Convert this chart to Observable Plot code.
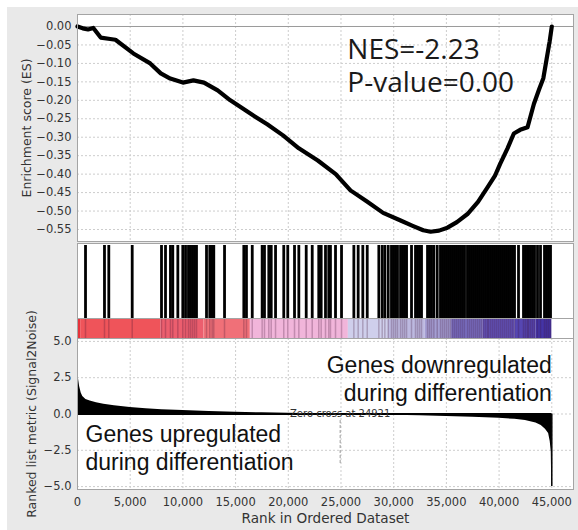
<!DOCTYPE html>
<html><head><meta charset="utf-8">
<script src="https://cdn.jsdelivr.net/npm/d3@7"></script>
<script src="https://cdn.jsdelivr.net/npm/@observablehq/plot@0.6"></script>
<style>
html,body{margin:0;padding:0;background:#fff;}
#chart{width:578px;height:530px;background:#e9e9e9;box-shadow:inset 7px 7px 0 0 #fff;overflow:hidden;}
#chart svg{display:block;overflow:visible;}
</style></head><body><div id="chart"></div>
<script>
// ---- data ----
const esRank  = [0, 500, 1000, 1500, 2200, 3100, 3600, 5300, 6900, 7900, 8800, 10000, 11000, 12000, 13300, 14500, 16400, 18000, 19500, 21000, 22800, 24500, 25900, 27500, 29000, 30600, 31800, 32800, 33500, 34300, 35100, 36000, 37000, 38000, 38900, 39600, 40100, 40800, 41400, 42000, 42700, 43300, 43800, 44200, 44500, 44800, 45000];
const esValue = [0, -0.005, -0.008, -0.004, -0.03, -0.034, -0.036, -0.073, -0.1, -0.127, -0.141, -0.152, -0.146, -0.152, -0.173, -0.2, -0.236, -0.265, -0.295, -0.33, -0.363, -0.4, -0.444, -0.475, -0.505, -0.525, -0.54, -0.552, -0.556, -0.553, -0.545, -0.53, -0.508, -0.475, -0.436, -0.405, -0.372, -0.33, -0.29, -0.28, -0.273, -0.21, -0.17, -0.14, -0.09, -0.04, 0.0];

const hitRanks = [760, 2560, 2970, 5190, 7970, 8350, 8820, 9040, 9520, 9990, 10250, 10530, 10720, 10910, 11100, 11290,
  12240, 12550, 12780, 12930, 13950, 15780, 16030, 16580, 17520, 17740, 18150, 18380, 18790, 19570, 19950, 20590, 21000,
  21700, 22270, 22890, 23120, 23530, 23840, 24000, 24480, 25050, 26220, 26630, 27070, 27490, 28590, 28910, 29160, 29480,
  29790, 29980, 30170, 30360, 30650, 30840, 31030, 31220, 31690, 32070, 32260, 32450, 32640, 33210, 33400, 33590, 33810,
  34130, 34440, 34630, 34820, 35010, 35200, 35390, 35580, 35770, 35960, 36150, 36340, 36530, 36720, 37000, 37190, 37380,
  37570, 37760, 37950, 38140, 38330, 38520, 38710, 38900, 38996, 39185, 39375, 39565, 39755, 39944, 40134, 40324, 40514,
  40704, 40893, 41083, 41273, 41463, 41842, 42316, 42506, 42696, 42791, 42981, 43170, 43360, 43645, 43929, 44309, 44499,
  44689, 44879];

const barStart = [0, 300, 7900, 12000, 16400, 25700, 29500, 33000, 35500, 38500, 41500, 43500];
const barEnd   = [300, 7900, 12000, 16400, 25700, 29500, 33000, 35500, 38500, 41500, 43500, 45000];
const barColor = ["#e6333b", "#ef545a", "#ec5e6e", "#f07078", "#f1b5da", "#cfcfec", "#bdb9e0", "#a49ed3", "#7a70c4", "#6454bb", "#5646b2", "#4434a6"];

const metricRank  = [0, 30, 100, 200, 350, 500, 800, 1200, 1800, 2500, 3500, 5000, 6500, 8000, 10000, 12500, 15000, 17500, 20000, 22500, 24921, 27500, 30000, 32500, 35000, 37500, 40000, 41500, 42500, 43500, 44000, 44400, 44700, 44850, 44950, 45000];
const metricValue = [4.2, 3.2, 2.4, 1.9, 1.45, 1.2, 1.0, 0.9, 0.78, 0.68, 0.57, 0.45, 0.37, 0.3, 0.24, 0.18, 0.12, 0.08, 0.05, 0.02, 0, -0.04, -0.08, -0.12, -0.17, -0.22, -0.3, -0.37, -0.45, -0.62, -0.8, -1.05, -1.35, -1.9, -2.6, -5.0];

const esTicks = [0, -0.05, -0.1, -0.15, -0.2, -0.25, -0.3, -0.35, -0.4, -0.45, -0.5, -0.55];
const metricTicks = [5, 2.5, 0, -2.5, -5];
const rankTicks = [0, 5000, 10000, 15000, 20000, 25000, 30000, 35000, 40000, 45000];
const zeroCross = 24921;
const statsLines = ["NES=-2.23", "P-value=0.00"];
const downLines = ["Genes downregulated", "during differentiation"];
const upLines = ["Genes upregulated", "during differentiation"];

// ---- layout ----
const W = 578, ML = 77, MR = 5;
const xDomain = [0, 47060];
const grid = {stroke: "#cdcdcd", strokeDasharray: "2,2", strokeWidth: 1};
const frameStroke = "#a4a4a4";
const baseStyle = {background: "transparent", fontFamily: "DejaVu Sans", fontSize: "11.5px", color: "#333", overflow: "visible"};

const es = esRank.map((r, i) => ({rank: r, es: esValue[i]}));
const bars = barStart.map((s, i) => ({x1: s, x2: barEnd[i], c: barColor[i]}));
const metric = metricRank.map((r, i) => ({rank: r, m: metricValue[i]}));
const last = metric[metric.length - 1];

const p1 = Plot.plot({
  width: W, height: 242, marginLeft: ML, marginRight: MR, marginTop: 14, marginBottom: 1,
  style: baseStyle,
  x: {domain: xDomain, axis: null},
  y: {domain: [-0.5825, 0.0325], axis: null},
  marks: [
    Plot.frame({fill: "white"}),
    Plot.ruleX(rankTicks, grid),
    Plot.ruleY(esTicks, grid),
    Plot.ruleY([0], {stroke: "#9a9a9a"}),
    Plot.axisY(esTicks, {tickSize: 0, tickPadding: 6, tickFormat: d3.format(".2f"), label: null, fill: "#333"}),
    Plot.line(es, {x: "rank", y: "es", stroke: "black", strokeWidth: 4.2, strokeLinejoin: "round"}),
    Plot.text([statsLines.join("\n")], {x: 25600, y: -0.0247, text: d => d, textAnchor: "start", lineAnchor: "top",
      fontSize: 28, fontFamily: "Open Sans", lineHeight: 1.18, fill: "#1a1a1a"}),
    Plot.text(["Enrichment score (ES)"], {frameAnchor: "left", dx: -51, rotate: -90, textAnchor: "middle", text: d => d, fontSize: 12.5, fill: "#333"}),
    Plot.frame({stroke: frameStroke})
  ]
});

const p2 = Plot.plot({
  width: W, height: 96, marginLeft: ML, marginRight: MR, marginTop: 1, marginBottom: 0,
  style: baseStyle,
  x: {domain: xDomain, axis: null},
  y: {domain: [0, 1], axis: null},
  color: {type: "identity"},
  marks: [
    Plot.frame({fill: "white"}),
    Plot.rect(bars, {x1: "x1", x2: "x2", y1: 0, y2: 0.2105, fill: "c"}),
    Plot.ruleX(hitRanks, {y1: 0, y2: 0.2105, stroke: "#3a1030", strokeOpacity: 0.25, strokeWidth: 1.5}),
    Plot.ruleX(hitRanks, {y1: 0.2105, y2: 0.979, stroke: "black", strokeWidth: 2.8}),
    Plot.ruleY([0.2105], {stroke: frameStroke}),
    Plot.frame({stroke: frameStroke})
  ]
});

const p3 = Plot.plot({
  width: W, height: 192, marginLeft: ML, marginRight: MR, marginTop: 0, marginBottom: 41,
  style: baseStyle,
  x: {domain: xDomain, axis: null},
  y: {domain: [-5.2, 5.2], axis: null},
  marks: [
    Plot.frame({fill: "white"}),
    Plot.ruleX(rankTicks, grid),
    Plot.ruleY(metricTicks, grid),
    Plot.areaY(metric, {x: "rank", y: "m", fill: "black"}),
    Plot.ruleX([last], {x: "rank", y1: 0, y2: "m", stroke: "black", strokeWidth: 1.5}),
    Plot.ruleY([0], {x1: 0, x2: last.rank, stroke: "black", strokeWidth: 2}),
    Plot.ruleX([zeroCross], {y1: -0.45, y2: -3.55, stroke: "#9a9a9a", strokeDasharray: "3,2"}),
    Plot.text(["Zero cross at " + zeroCross], {x: zeroCross, y: 0, text: d => d, fontSize: 10, fill: "#333"}),
    Plot.text([downLines.join("\n")], {x: 45000, y: 4.16, text: d => d, textAnchor: "end", lineAnchor: "top",
      fontSize: 23, fontFamily: "Liberation Sans", lineHeight: 1.2, fill: "#111"}),
    Plot.text([upLines.join("\n")], {x: 760, y: -0.58, text: d => d, textAnchor: "start", lineAnchor: "top",
      fontSize: 23, fontFamily: "Liberation Sans", lineHeight: 1.2, fill: "#111"}),
    Plot.axisY(metricTicks, {tickSize: 0, tickPadding: 6, tickFormat: d3.format(".1f"), label: null, fill: "#333"}),
    Plot.axisX(rankTicks, {tickSize: 0, tickPadding: 8, tickFormat: d3.format(","), label: null, fill: "#333"}),
    Plot.text(["Rank in Ordered Dataset"], {frameAnchor: "bottom", dy: 33, text: d => d, fontSize: 13.6, fill: "#333"}),
    Plot.text(["Ranked list metric (Signal2Noise)"], {frameAnchor: "left", dx: -46, rotate: -90, textAnchor: "middle", text: d => d, fontSize: 12.5, fill: "#333"}),
    Plot.frame({stroke: frameStroke})
  ]
});

const root = document.getElementById("chart");
root.append(p1, p2, p3);
</script></body></html>
